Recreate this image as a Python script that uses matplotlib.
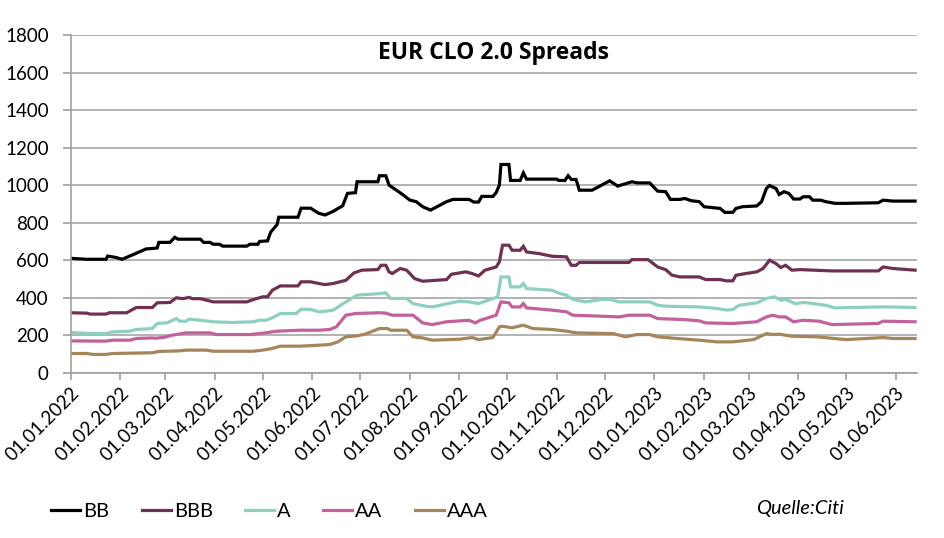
import matplotlib
matplotlib.use("Agg")
import matplotlib.pyplot as plt
import matplotlib.dates as mdates
import numpy as np
import pandas as pd

plt.rcParams['font.family'] = ['Lato', 'DejaVu Sans']

# days counted from 01.01.2022, values in bp
bb_days = [0, 10, 22, 23, 28, 32, 39, 43, 47, 54, 55, 62, 65, 67, 81, 83, 87, 89, 93, 95, 110,
           112, 117, 118, 123, 125, 129, 130, 142, 144, 150, 155, 159, 164, 170, 173, 178, 179,
           192, 193, 197, 199, 205, 208, 212, 216, 220, 225, 231, 235, 239, 249, 252, 255, 257,
           264, 266, 268, 269, 274, 275, 281, 283, 285, 304, 305, 309, 311, 313, 316, 318, 326,
           337, 342, 351, 354, 362, 367, 372, 375, 381, 384, 388, 393, 396, 406, 409, 414, 416,
           420, 429, 432, 435, 437, 439, 441, 443, 446, 449, 452, 456, 458, 462, 464, 469, 472,
           478, 485, 505, 508, 514, 528]
bb_vals = [610, 605, 605, 622, 615, 605, 630, 645, 660, 665, 695, 695, 722, 712, 712, 695, 695,
           685, 685, 675, 675, 685, 685, 700, 703, 750, 790, 829, 829, 877, 877, 850, 841, 860,
           890, 956, 960, 1018, 1018, 1050, 1050, 1000, 965, 947, 920, 912, 885, 867, 894, 912,
           924, 924, 910, 910, 940, 940, 960, 1000, 1110, 1110, 1025, 1025, 1065, 1032, 1032,
           1025, 1025, 1050, 1030, 1030, 973, 973, 1023, 995, 1018, 1012, 1012, 968, 965, 924,
           924, 929, 917, 912, 885, 876, 855, 855, 876, 885, 889, 912, 982, 998, 990, 982, 950,
           965, 956, 926, 926, 938, 938, 920, 920, 912, 903, 903, 906, 920, 915, 915]

bbb_days = [0, 10, 12, 22, 24, 35, 38, 41, 51, 54, 62, 66, 70, 74, 76, 81, 85, 89, 110, 114,
            120, 123, 126, 131, 142, 144, 150, 155, 159, 164, 172, 177, 182, 192, 194, 197, 199,
            201, 206, 210, 215, 220, 235, 238, 247, 251, 255, 259, 266, 268, 270, 274, 276, 281,
            283, 285, 293, 301, 310, 313, 316, 318, 349, 351, 361, 367, 372, 376, 381, 393, 397,
            406, 410, 414, 416, 422, 429, 433, 437, 441, 444, 447, 451, 456, 476, 505, 508, 514,
            528]
bbb_vals = [320, 318, 313, 313, 320, 320, 335, 348, 348, 373, 375, 400, 395, 402, 395, 395, 387,
            378, 378, 390, 405, 405, 440, 463, 463, 485, 485, 476, 470, 476, 493, 532, 547, 550,
            573, 573, 538, 529, 556, 547, 502, 488, 497, 525, 538, 529, 516, 547, 564, 591, 680,
            680, 653, 653, 674, 644, 635, 621, 618, 573, 573, 588, 588, 603, 603, 564, 550, 520,
            511, 511, 497, 497, 490, 490, 520, 529, 538, 556, 600, 582, 561, 573, 547, 550, 543,
            543, 564, 556, 547]

a_days = [0, 12, 22, 26, 37, 41, 51, 54, 60, 66, 68, 72, 74, 81, 89, 101, 114, 118, 122, 126,
          131, 141, 144, 150, 155, 159, 164, 172, 179, 193, 197, 200, 210, 214, 222, 226, 243,
          249, 255, 261, 267, 269, 274, 275, 281, 283, 285, 301, 306, 310, 314, 322, 332, 337,
          343, 362, 367, 372, 393, 404, 410, 414, 418, 429, 435, 440, 444, 447, 453, 459, 472,
          478, 505, 514, 528]
a_vals = [215, 209, 209, 218, 222, 231, 236, 263, 266, 289, 275, 275, 286, 280, 272, 268, 272,
          280, 280, 293, 316, 316, 339, 338, 325, 328, 334, 378, 414, 422, 426, 396, 396, 369,
          355, 351, 382, 378, 369, 387, 405, 511, 511, 458, 458, 476, 449, 440, 422, 414, 391,
          378, 391, 391, 378, 378, 360, 355, 351, 343, 334, 337, 360, 373, 396, 405, 387, 391,
          369, 375, 360, 346, 351, 351, 348]

aa_days = [0, 22, 26, 37, 41, 51, 53, 59, 63, 72, 87, 91, 112, 120, 129, 143, 155, 162, 166,
           172, 178, 193, 197, 201, 214, 220, 226, 235, 249, 253, 256, 266, 269, 274, 276, 281,
           283, 285, 301, 310, 314, 331, 343, 349, 362, 367, 383, 393, 397, 414, 429, 435, 439,
           443, 447, 452, 458, 468, 476, 505, 508, 528]
aa_vals = [170, 169, 174, 174, 183, 186, 184, 190, 200, 213, 213, 204, 204, 211, 222, 227, 227,
           231, 245, 307, 316, 320, 318, 307, 307, 266, 257, 272, 280, 266, 280, 307, 378, 373,
           351, 351, 369, 346, 334, 325, 307, 302, 298, 307, 307, 289, 284, 277, 266, 263, 272,
           298, 307, 298, 298, 272, 280, 275, 257, 263, 275, 272]

aaa_days = [0, 10, 14, 22, 26, 51, 55, 68, 72, 85, 89, 114, 120, 126, 131, 143, 155, 162, 167,
            172, 179, 184, 193, 198, 200, 210, 214, 220, 226, 243, 251, 255, 264, 268, 270, 276,
            283, 289, 301, 310, 316, 339, 347, 354, 362, 367, 379, 393, 404, 414, 427, 435, 439,
            443, 451, 466, 485, 508, 514, 528]
aaa_vals = [103, 103, 98, 98, 103, 107, 114, 117, 121, 121, 115, 115, 121, 130, 142, 142, 147,
            151, 165, 192, 197, 206, 236, 236, 227, 227, 192, 186, 174, 179, 188, 177, 188, 245,
            248, 240, 254, 236, 231, 222, 213, 209, 192, 204, 204, 192, 183, 174, 165, 165, 177,
            209, 204, 206, 195, 192, 177, 188, 183, 183]

series = [("BB", bb_days, bb_vals, "#000000"),
          ("BBB", bbb_days, bbb_vals, "#6E3152"),
          ("A", a_days, a_vals, "#8DD0C0"),
          ("AA", aa_days, aa_vals, "#C2619C"),
          ("AAA", aaa_days, aaa_vals, "#A4865A")]

start = pd.Timestamp("2022-01-01")
month_ticks = pd.date_range("2022-01-01", "2023-06-01", freq="MS")

fig = plt.figure(figsize=(9.45, 5.38), dpi=100)
ax = fig.add_axes([0.075, 0.307, 0.895, 0.628])

for name, days, vals, col in series:
    x = start + pd.to_timedelta(np.array(days), unit="D")
    ax.plot(x, vals, color=col, lw=2.3, label=name, solid_joinstyle="miter")

ax.set_ylim(0, 1800)
ax.set_yticks(np.arange(0, 1801, 200))
ax.set_xlim(start, start + pd.Timedelta(days=529))
ax.set_xticks(month_ticks)
ax.xaxis.set_major_formatter(mdates.DateFormatter("%d.%m.%Y"))
for lab in ax.get_xticklabels():
    lab.set_rotation(45)
    lab.set_ha("right")
    lab.set_rotation_mode("anchor")
ax.tick_params(axis="x", length=5, width=1.2, color="#A0A0A0", labelsize=13.5, pad=3)
ax.tick_params(axis="y", length=6, width=1.2, color="#A0A0A0", labelsize=13.5, pad=10)
ax.grid(axis="y", color="#A6A6A6", lw=1.2)
ax.set_axisbelow(True)
for s in ["top", "right"]:
    ax.spines[s].set_visible(False)
for s in ["left", "bottom"]:
    ax.spines[s].set_color("#A0A0A0")
    ax.spines[s].set_linewidth(1.2)

ax.text(0.5, 0.946, "EUR CLO 2.0 Spreads", transform=ax.transAxes, ha="center", va="center",
        fontsize=16.5, fontweight="bold", family=["Open Sans", "DejaVu Sans"])

fig.legend(loc="lower left", bbox_to_anchor=(0.035, 0.0), ncol=5, frameon=False,
           fontsize=14.5, handlelength=1.45, handletextpad=0.15, columnspacing=1.6)
fig.text(0.80, 0.045, "Quelle:Citi", fontsize=14.5, style="italic")

fig.savefig("out.png", dpi=100)
